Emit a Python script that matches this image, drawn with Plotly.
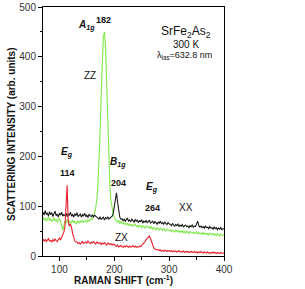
import plotly.graph_objects as go

raman_shift = list(range(70, 401, 2))

xx_intensity = [
    88,82,91,84,86,80,89,83,87,79,85,90,81,84,78,86,82,88,80,83,
    81,86,79,84,82,88,80,83,78,85,81,87,79,82,84,78,83,80,86,79,82,77,84,81,79,83,78,82,80,77,
    77,74,79,73,76,78,72,77,75,79,74,76,78,80,
    85,98,118,127,108,88,78,74,
    75,71,74,70,73,76,70,72,69,74,71,68,73,70,72,67,71,69,73,66,70,68,71,67,69,72,66,68,70,65,
    69,67,64,68,66,70,65,67,64,68,66,63,67,65,
    64,61,65,62,60,63,61,64,59,62,60,63,58,61,62,59,60,57,61,59,
    62,58,60,59,66,70,61,58,60,57,59,56,60,57,58,55,59,56,57,54,
    58,55,57,53,56,54,57,53,55,54,
]

zz_intensity = [
    78,72,76,70,74,79,71,75,69,73,77,70,74,68,72,76,69,58,52,60,
    70,66,73,68,71,65,69,72,67,70,64,69,71,66,70,68,72,67,69,71,68,73,70,72,75,74,
    78,85,96,112,140,185,245,320,395,440,450,420,350,265,190,140,110,92,84,78,
    73,70,68,71,66,69,65,67,64,66,63,65,62,64,61,63,60,62,64,59,61,58,62,60,57,61,59,56,60,58,
    57,59,55,58,54,57,56,53,57,55,52,56,54,51,55,53,50,54,52,51,
    53,49,52,50,48,52,49,51,47,50,48,51,47,49,46,50,48,45,49,47,
    46,48,45,47,49,44,47,45,46,43,47,44,46,43,45,42,46,44,43,45,
    42,44,41,45,43,40,44,42,41,43,
]

zx_intensity = [
    34,30,33,29,32,35,30,31,28,33,30,34,31,29,33,36,32,38,
    40,48,58,90,142,70,60,64,58,45,34,30,28,
    28,25,27,24,26,29,25,27,28,26,30,27,25,28,26,29,27,24,28,26,25,27,23,26,24,27,25,22,26,24,23,25,22,24,23,
    21,19,22,18,20,21,19,17,20,18,21,19,17,20,18,19,21,18,20,17,19,18,20,19,21,23,26,
    29,33,36,39,40,35,27,20,16,14,13,12,13,
    11,12,10,11,9,12,10,9,11,10,9,11,8,10,9,10,8,9,11,8,
    9,8,10,7,9,8,9,7,8,9,7,8,9,7,8,6,8,7,9,7,
    6,8,7,6,8,7,5,7,6,8,6,7,5,7,6,5,7,6,5,6,
]

assert len(xx_intensity) == len(raman_shift), len(xx_intensity)
assert len(zz_intensity) == len(raman_shift), len(zz_intensity)
assert len(zx_intensity) == len(raman_shift), len(zx_intensity)

FONT = "Liberation Sans, Arial, sans-serif"

fig = go.Figure()
fig.add_trace(go.Scatter(x=raman_shift, y=zz_intensity, mode="lines", name="ZZ",
                         line=dict(color="#7ee84a", width=1.1)))
fig.add_trace(go.Scatter(x=raman_shift, y=xx_intensity, mode="lines", name="XX",
                         line=dict(color="#1a1a1a", width=1.1)))
fig.add_trace(go.Scatter(x=raman_shift, y=zx_intensity, mode="lines", name="ZX",
                         line=dict(color="#e8202a", width=1.1)))

labels = [
    (149, 462, "<b><i>A</i></b><sub><b><i>1g</i></b></sub>", 10),
    (180, 474, "<b>182</b>", 9),
    (156, 363, "ZZ", 10),
    (114, 207, "<b><i>E</i></b><sub><b><i>g</i></b></sub>", 10),
    (114, 167, "<b>114</b>", 9),
    (207, 187, "<b><i>B</i></b><sub><b><i>1g</i></b></sub>", 10),
    (207, 147, "<b>204</b>", 9),
    (268, 137, "<b><i>E</i></b><sub><b><i>g</i></b></sub>", 10),
    (270, 97, "<b>264</b>", 9),
    (330, 98, "XX", 10),
    (214, 38, "ZX", 10),
    (330, 450, "SrFe<sub>2</sub>As<sub>2</sub>", 12),
    (330, 425, "300 K", 10),
    (328, 402, "λ<sub>las</sub>=632.8 nm", 9),
]
for x, y, t, s in labels:
    fig.add_annotation(x=x, y=y, text=t, showarrow=False,
                       font=dict(family=FONT, size=s, color="#111"),
                       xanchor="center", yanchor="middle")

# axis titles placed explicitly
fig.add_annotation(xref="paper", yref="paper", x=0.442, y=-0.096,
                   text="<b>RAMAN SHIFT (cm<sup>-1</sup>)</b>", showarrow=False,
                   font=dict(family=FONT, size=10, color="#111"),
                   xanchor="center", yanchor="middle")
fig.add_annotation(xref="paper", yref="paper", x=-0.171, y=0.49,
                   text="<b>SCATTERING INTENSITY (arb. units)</b>", showarrow=False,
                   textangle=-90,
                   font=dict(family=FONT, size=10, color="#111"),
                   xanchor="center", yanchor="middle")

fig.update_layout(
    width=305, height=289,
    margin=dict(l=43, r=81, t=7, b=33, autoexpand=False),
    paper_bgcolor="white", plot_bgcolor="white",
    showlegend=False,
    font=dict(family=FONT, size=10, color="#111"),
)
fig.update_xaxes(
    range=[70, 400], tickvals=[100, 200, 300, 400],
    ticks="outside", ticklen=4, tickwidth=1, tickcolor="black",
    minor=dict(tickvals=[150, 250, 350], ticks="outside", ticklen=2.5, tickcolor="black"),
    showline=True, linecolor="black", linewidth=1, mirror=True,
    showgrid=False, zeroline=False, automargin=False,
    tickfont=dict(family=FONT, size=10, color="#333"),
)
fig.update_yaxes(
    range=[0, 500], tickvals=[0, 100, 200, 300, 400, 500],
    ticks="outside", ticklen=4, tickwidth=1, tickcolor="black",
    minor=dict(tickvals=[50, 150, 250, 350, 450], ticks="outside", ticklen=2.5, tickcolor="black"),
    showline=True, linecolor="black", linewidth=1, mirror=True,
    showgrid=False, zeroline=False, automargin=False,
    tickfont=dict(family=FONT, size=10, color="#333"),
)

fig.write_html("out.html", config={"displayModeBar": False},
               post_script="document.body.style.margin='0';")
